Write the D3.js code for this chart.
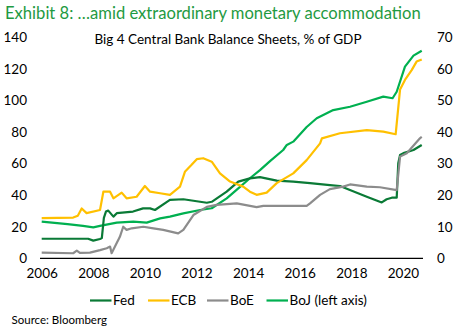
<!DOCTYPE html>
<html>
<head>
<meta charset="utf-8">
<script src="https://cdn.jsdelivr.net/npm/d3@7"></script>
<style>
  body { margin: 0; background: #fff; }
  svg text { font-family: Lato, 'Liberation Sans', sans-serif; }
</style>
</head>
<body>
<div id="chart"></div>
<script>
// Balance sheets, % of GDP (Fed, ECB, BoE on right axis; BoJ on left axis)
var fedYears = [2006.0, 2007.8, 2008.0, 2008.26, 2008.33, 2008.41, 2008.49, 2008.58, 2008.78, 2008.91, 2009.54, 2009.93, 2010.2, 2010.39, 2010.97, 2011.49, 2012.4, 2012.59, 2013.17, 2013.62, 2014.07, 2014.46, 2015.11, 2015.75, 2016.4, 2017.17, 2017.56, 2018.6, 2019.18, 2019.37, 2019.57, 2019.76, 2019.82, 2019.89, 2020.02, 2020.41, 2020.73]
var fedValues = [6.2, 6.2, 5.6, 6.1, 6.4, 12.8, 14.8, 15.1, 13.2, 14.3, 14.8, 15.8, 15.8, 15.3, 18.5, 18.7, 17.6, 17.9, 21.1, 24.3, 25.3, 25.7, 24.6, 24.3, 23.8, 23.2, 22.9, 19.5, 17.7, 18.7, 19.2, 19.2, 30.1, 32.7, 33.3, 34.3, 35.9]

var ecbYears = [2006.0, 2007.22, 2007.4, 2007.55, 2007.74, 2008.26, 2008.39, 2008.65, 2008.78, 2009.1, 2009.29, 2009.68, 2010.0, 2010.2, 2010.59, 2010.97, 2011.36, 2011.55, 2011.81, 2012.01, 2012.26, 2012.59, 2012.91, 2013.3, 2013.81, 2014.07, 2014.33, 2014.72, 2015.11, 2015.75, 2016.27, 2016.79, 2016.86, 2017.56, 2018.6, 2019.24, 2019.72, 2019.89, 2020.08, 2020.34, 2020.53, 2020.73]
var ecbValues = [12.7, 12.9, 13.5, 15.8, 14.3, 15.3, 21.1, 21.1, 19.0, 20.8, 19.0, 19.5, 22.9, 21.1, 20.6, 20.1, 22.7, 27.4, 29.6, 31.4, 31.7, 30.6, 26.9, 24.3, 22.7, 21.1, 20.1, 20.8, 23.8, 26.9, 31.1, 36.4, 38.0, 39.6, 40.6, 40.1, 39.3, 53.5, 56.5, 59.6, 62.3, 63.0]

var boeYears = [2006.0, 2007.22, 2007.36, 2007.48, 2007.87, 2008.26, 2008.52, 2008.65, 2008.71, 2008.84, 2009.03, 2009.16, 2009.29, 2009.49, 2009.94, 2010.33, 2010.71, 2011.29, 2011.49, 2011.88, 2012.4, 2012.78, 2013.56, 2014.33, 2014.59, 2016.27, 2016.4, 2016.79, 2017.17, 2017.69, 2017.95, 2018.6, 2019.11, 2019.76, 2019.89, 2020.15, 2020.66, 2020.73]
var boeValues = [1.8, 1.6, 2.4, 1.7, 1.8, 2.6, 3.2, 3.7, 1.6, 3.7, 6.8, 10.0, 9.0, 9.5, 10.0, 9.5, 9.0, 7.9, 9.0, 13.7, 16.3, 16.9, 17.4, 16.2, 16.6, 16.6, 17.4, 20.1, 21.9, 22.7, 23.4, 22.7, 22.5, 21.6, 32.2, 33.3, 38.0, 38.5]

var bojYears = [2006.0, 2007.0, 2007.6, 2008.0, 2008.26, 2008.91, 2009.55, 2010.07, 2010.59, 2010.97, 2011.49, 2012.14, 2012.59, 2013.17, 2013.62, 2014.07, 2014.46, 2014.85, 2015.36, 2015.5, 2015.75, 2016.27, 2016.66, 2017.3, 2017.95, 2018.6, 2019.24, 2019.6, 2019.76, 2020.08, 2020.41, 2020.73]
var bojValues = [23.2, 21.7, 20.5, 19.6, 20.5, 22.6, 23.2, 22.6, 25.3, 26.4, 28.5, 30.6, 31.7, 38.0, 44.3, 50.7, 55.9, 61.6, 68.6, 71.8, 73.9, 83.2, 88.7, 93.9, 96.0, 99.2, 102.4, 101.4, 105.5, 121.4, 128.4, 131.5]

var xTicks = [2006, 2008, 2010, 2012, 2014, 2016, 2018, 2020]
var leftTicks = [0, 20, 40, 60, 80, 100, 120, 140]
var rightTicks = [0, 10, 20, 30, 40, 50, 60, 70]

var width = 457
var height = 335

var svg = d3.select('#chart')
  .append('svg')
  .attr('width', width)
  .attr('height', height)

// Scales
var x = d3.scaleLinear()
  .domain([2006, 2020])
  .range([41.7, 402.9])

var yLeft = d3.scaleLinear()
  .domain([0, 140])
  .range([258.3, 37.3])

var yRight = d3.scaleLinear()
  .domain([0, 70])
  .range([258.3, 37.3])

// Title
svg.append('text')
  .attr('x', 5)
  .attr('y', 19)
  .attr('font-size', '16.6px')
  .attr('fill', '#1f9a42')
  .text('Exhibit 8: \u2026amid extraordinary monetary accommodation')

svg.append('text')
  .attr('x', 228)
  .attr('y', 44)
  .attr('text-anchor', 'middle')
  .attr('font-size', '13.5px')
  .attr('fill', '#000')
  .text('Big 4 Central Bank Balance Sheets, % of GDP')

// Axes
var leftAxis = d3.axisLeft(yLeft)
  .tickValues(leftTicks)
  .tickSize(0)
  .tickPadding(0)

svg.append('g')
  .attr('transform', 'translate(27,0)')
  .call(leftAxis)
  .call(function (g) { g.select('.domain').remove() })

var rightAxis = d3.axisRight(yRight)
  .tickValues(rightTicks)
  .tickSize(0)
  .tickPadding(0)

svg.append('g')
  .attr('transform', 'translate(437,0)')
  .call(rightAxis)
  .call(function (g) { g.select('.domain').remove() })

var bottomAxis = d3.axisBottom(x)
  .tickValues(xTicks)
  .tickFormat(d3.format('d'))
  .tickSize(0)
  .tickPadding(10)

svg.append('g')
  .attr('transform', 'translate(0,258.3)')
  .call(bottomAxis)
  .call(function (g) { g.select('.domain').remove() })

svg.selectAll('.tick text')
  .attr('font-size', '13.5px')
  .attr('font-family', null)
  .attr('fill', '#000')

svg.append('line')
  .attr('x1', 40)
  .attr('x2', 423)
  .attr('y1', yLeft(0))
  .attr('y2', yLeft(0))
  .style('stroke', '#000')
  .style('stroke-width', 1.2)

// Series lines
var series = [
  { name: 'BoJ (left axis)', years: bojYears, values: bojValues, y: yLeft, color: '#00b050' },
  { name: 'Fed', years: fedYears, values: fedValues, y: yRight, color: '#0a7a36' },
  { name: 'ECB', years: ecbYears, values: ecbValues, y: yRight, color: '#ffc000' },
  { name: 'BoE', years: boeYears, values: boeValues, y: yRight, color: '#8c8c8c' }
]

series.forEach(function (s) {
  var line = d3.line()
    .x(function (d, i) { return x(s.years[i]) })
    .y(function (d) { return s.y(d) })

  svg.append('path')
    .datum(s.values)
    .attr('d', line)
    .style('fill', 'none')
    .style('stroke', s.color)
    .style('stroke-width', 2.2)
    .style('stroke-linejoin', 'round')
})

// Legend
var legendItems = [
  { name: 'Fed', color: '#0a7a36', x: 90 },
  { name: 'ECB', color: '#ffc000', x: 148 },
  { name: 'BoE', color: '#8c8c8c', x: 207 },
  { name: 'BoJ (left axis)', color: '#00b050', x: 266.5 }
]

var legend = svg.selectAll('.legend')
  .data(legendItems)
  .enter()
  .append('g')
  .attr('class', 'legend')
  .attr('transform', function (d) { return 'translate(' + d.x + ',300.5)' })

legend.append('line')
  .attr('x1', 0)
  .attr('x2', 21.5)
  .style('stroke', function (d) { return d.color })
  .style('stroke-width', 2.2)

legend.append('text')
  .attr('x', 23)
  .attr('dy', '0.35em')
  .attr('font-size', '13.5px')
  .attr('fill', '#000')
  .text(function (d) { return d.name })

svg.append('text')
  .attr('x', 11.5)
  .attr('y', 323.5)
  .attr('font-size', '11.5px')
  .attr('fill', '#000')
  .text('Source: Bloomberg')
</script>
</body>
</html>
